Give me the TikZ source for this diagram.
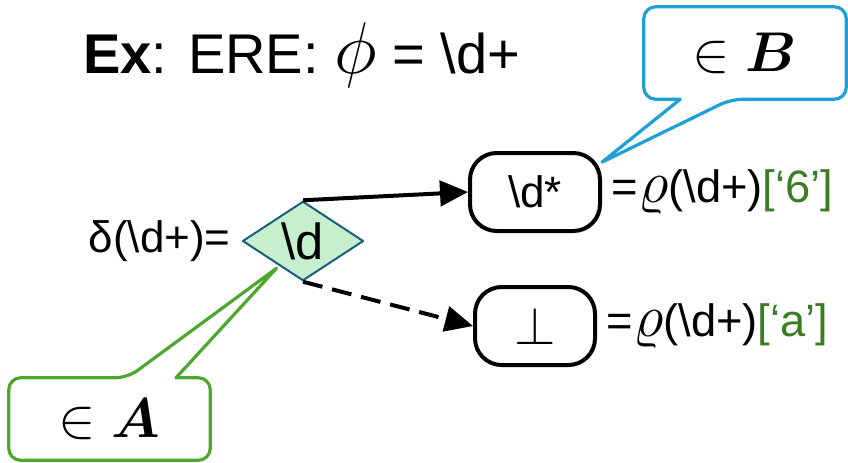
\RequirePackage{fix-cm}
\documentclass[tikz,border=0pt]{standalone}
\usepackage{amsmath}
\usepackage{amssymb}
\usepackage{fontspec}
\setmainfont{Liberation Sans}
\usetikzlibrary{positioning,shapes.geometric,arrows.meta,calc}
\definecolor{calloutblue}{RGB}{30,160,215}
\definecolor{calloutgreen}{RGB}{78,167,46}
\definecolor{idxgreen}{RGB}{59,125,35}
\definecolor{condfill}{RGB}{198,239,206}
\definecolor{conddraw}{RGB}{25,95,125}
\newcommand{\bsl}{\textbackslash}
\newcommand{\rhosym}{{\fontsize{45}{50}\selectfont$\varrho$}}
\tikzset{
  >={Triangle[length=21pt,width=19pt]},
  lbl/.style={font=\fontsize{33}{40}\selectfont, inner sep=0pt},
  rholbl/.style={font=\fontsize{34}{40}\selectfont, inner sep=0pt},
  rstate/.style={draw, line width=3pt, rounded corners=20pt, minimum height=58.5pt, lbl},
  cond/.style={diamond, draw=conddraw, fill=condfill, line width=1.5pt,
    minimum width=90.75pt, minimum height=57.75pt, inner sep=0pt, font=\fontsize{38}{44}\selectfont},
  callbox/.style={inner sep=0pt, font=\fontsize{42}{48}\selectfont},
  callline/.style={line width=2.4pt, rounded corners=9pt},
}
\begin{document}
\begin{tikzpicture}[x=0.75pt, y=-0.75pt, line join=round]
  \useasboundingbox (0,0) rectangle (848,462);
  % title
  \node[anchor=base west, inner sep=0pt, font=\fontsize{42}{48}\selectfont] (title) at (83,73)
    {\textbf{Ex}: ERE: {\fontsize{55}{60}\selectfont$\phi$} = \bsl d+};

  % derivative
  \node[cond] (dd) at (303,241) {\bsl d};
  \node[lbl, left=8pt of dd] (delta) {δ(\bsl d+)=};
  \node[rstate, minimum width=97.5pt] (s6) at (535,192) {\bsl d*};
  \node[rstate, minimum width=90pt]   (sa) at (535,326) {{\fontsize{40}{44}\selectfont$\bot$}};
  \node[rholbl, right=7pt of s6] (rho6) {=\rhosym(\bsl d+)\textcolor{idxgreen}{[‘6’]}};
  \node[rholbl, right=7pt of sa] (rhoa) {=\rhosym(\bsl d+)\textcolor{idxgreen}{[‘a’]}};
  \draw[->, line width=3pt] (dd.north) -- (s6.west);
  \draw[->, line width=3pt, dash pattern=on 15pt off 7.5pt] (dd.south) -- (sa.west);

  % callouts
  \node[callbox, minimum width=151.5pt, minimum height=69pt] (cB) at (745,53) {$\in \boldsymbol{B}$};
  \coordinate (tipB) at (s6.24);
  \draw[callline, draw=calloutblue]
    ($(cB.south west)!0.18!(cB.south east)$) -- (cB.south west) -- (cB.north west)
    -- (cB.north east) -- (cB.south east) -- ($(cB.south west)!0.43!(cB.south east)$)
    [sharp corners] -- (tipB) -- cycle;
  \node[callbox, minimum width=150.75pt, minimum height=61.5pt] (cA) at (109.5,419) {$\in \boldsymbol{A}$};
  \coordinate (tipA) at ($(dd.west)!0.57!(dd.south) + (0,4)$);
  \draw[callline, draw=calloutgreen]
    ($(cA.north west)!0.83!(cA.north east)$) -- (cA.north east) -- (cA.south east)
    -- (cA.south west) -- (cA.north west) -- ($(cA.north west)!0.59!(cA.north east)$)
    [sharp corners] -- (tipA) -- cycle;
\end{tikzpicture}
\end{document}
